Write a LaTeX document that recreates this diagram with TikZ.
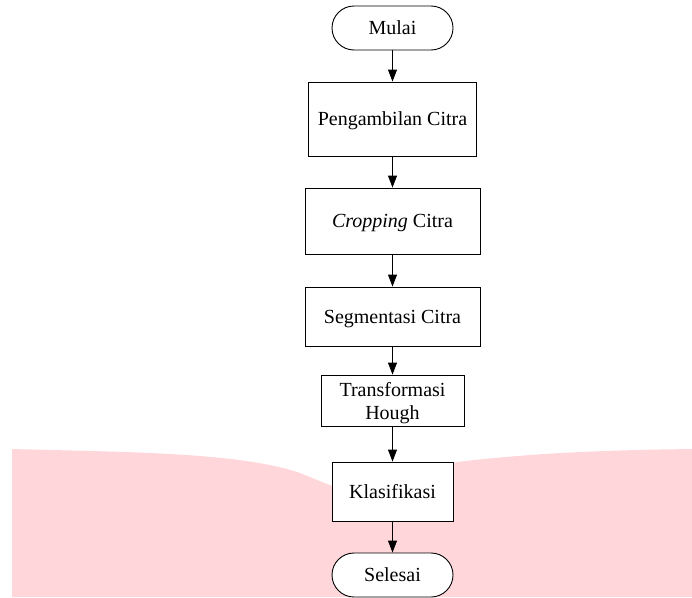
\documentclass[tikz,border=0pt]{standalone}
\usepackage{fontspec}
\setmainfont{Liberation Serif}
\usetikzlibrary{arrows.meta}
\definecolor{bgpink}{RGB}{255,214,218}
\tikzset{
  flowtext/.style={font=\fontsize{20}{23}\selectfont, align=center, inner sep=0pt, text depth=0pt},
  procbox/.style={draw=black, fill=white, line width=0.9pt, flowtext},
  termbox/.style={draw=black, fill=white, line width=0.9pt, rounded corners=22pt, flowtext,
                  minimum width=121pt, minimum height=44pt},
  flowarrow/.style={draw=black, line width=0.9pt, -{Triangle[length=12pt,width=9pt]}}
}
\begin{document}
\begin{tikzpicture}[x=1pt,y=-1pt]
\useasboundingbox (0,0) rectangle (692,597);
% pink background shape
\fill[bgpink] (12,449) .. controls (120,452) and (240,452) .. (300,473)
  .. controls (330,485) and (360,500) .. (392,495)
  .. controls (420,490) and (440,465) .. (457,462)
  .. controls (540,452) and (620,450) .. (692,449)
  -- (692,597) -- (12,597) -- cycle;
% nodes
\node[termbox] (mulai) at (392.5,28) {Mulai};
\node[procbox, minimum width=168pt, minimum height=74pt] (ambil) at (392.5,119) {Pengambilan Citra};
\node[procbox, minimum width=175pt, minimum height=66pt] (crop) at (392.5,221) {\textit{Cropping} Citra};
\node[procbox, minimum width=175pt, minimum height=59pt] (segm) at (392.5,316.5) {Segmentasi Citra};
\node[procbox, minimum width=143pt, minimum height=51pt] (hough) at (392.5,400.5) {Transformasi\\Hough};
\node[procbox, minimum width=121pt, minimum height=59pt] (klas) at (392.5,491.5) {Klasifikasi};
\node[termbox] (selesai) at (392.5,575) {Selesai};
% connectors
\draw[flowarrow] (mulai) -- (ambil);
\draw[flowarrow] (ambil) -- (crop);
\draw[flowarrow] (crop) -- (segm);
\draw[flowarrow] (segm) -- (hough);
\draw[flowarrow] (hough) -- (klas);
\draw[flowarrow] (klas) -- (selesai);
\end{tikzpicture}
\end{document}
